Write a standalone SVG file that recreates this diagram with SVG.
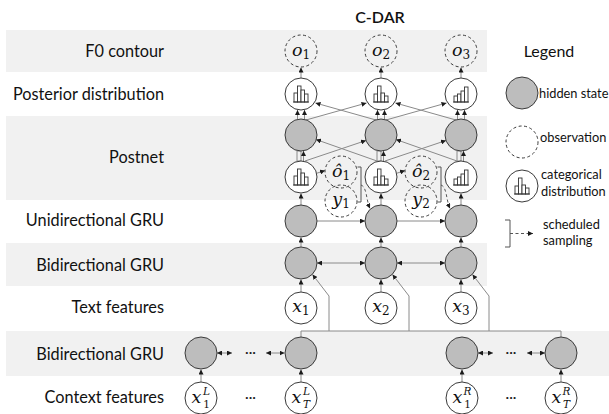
<svg xmlns="http://www.w3.org/2000/svg" xmlns:xlink="http://www.w3.org/1999/xlink" width="609" height="414" viewBox="0 0 609 414">
<style>
.band{fill:#f1f1f1}
.lbl{font-family:Lato,"Noto Sans","Liberation Sans",sans-serif;font-size:16.3px;fill:#111;text-anchor:end}
.leg{font-family:Lato,"Noto Sans","Liberation Sans",sans-serif;font-size:12.8px;fill:#111}
.hid{fill:#bdbdbd;stroke:#3a3a3a;stroke-width:1}
.obs{fill:#fff;fill-opacity:0;stroke:#3a3a3a;stroke-width:1;stroke-dasharray:3 2.5}
.cat{fill:#fff;stroke:#3a3a3a;stroke-width:1}
.m{font-family:"DejaVu Serif","Liberation Serif",serif;font-style:italic;font-size:17.5px;fill:#111;text-anchor:middle}
.ms{font-size:12px;font-style:normal}
.sc{font-family:"DejaVu Serif","Liberation Serif",serif;font-size:10.5px;fill:#111;text-anchor:middle}
.c{fill:none;stroke:#8a8a8a;stroke-width:1}
.a{marker-end:url(#ah)}
.d{marker-start:url(#ah);marker-end:url(#ah)}
.dash{stroke-dasharray:3 2.5;stroke:#555}
.bar{fill:#fff;stroke:#333;stroke-width:0.9}
.dots{font-family:Lato,"Liberation Sans",sans-serif;font-size:14px;fill:#222;text-anchor:middle}
</style>
<defs>
<marker id="ah" viewBox="0 0 5 5" refX="5" refY="2.5" markerWidth="5" markerHeight="5" orient="auto-start-reverse" markerUnits="userSpaceOnUse"><path d="M0,0 L5,2.5 L0,5 Z" fill="#1a1a1a"/></marker>
<g id="hA"><rect class="bar" x="-7" y="-1" width="3.5" height="9"/><rect class="bar" x="-3.5" y="-8" width="3.5" height="16"/><rect class="bar" x="0" y="-4" width="3.5" height="12"/><rect class="bar" x="3.5" y="0" width="3.5" height="8"/><path d="M-8,8 H8" stroke="#333" stroke-width="0.9"/></g>
<g id="hB"><rect class="bar" x="-7" y="0" width="3.5" height="8"/><rect class="bar" x="-3.5" y="-8" width="3.5" height="16"/><rect class="bar" x="0" y="-1" width="3.5" height="9"/><rect class="bar" x="3.5" y="2" width="3.5" height="6"/><path d="M-8,8 H8" stroke="#333" stroke-width="0.9"/></g>
<g id="hC"><rect class="bar" x="-7" y="2" width="3.5" height="6"/><rect class="bar" x="-3.5" y="0" width="3.5" height="8"/><rect class="bar" x="0" y="-3" width="3.5" height="11"/><rect class="bar" x="3.5" y="-7" width="3.5" height="15"/><path d="M-8,8 H8" stroke="#333" stroke-width="0.9"/></g>
</defs>

<g id="bands">
<rect class="band" x="6" y="30" width="481" height="42"/>
<rect class="band" x="6" y="116" width="481" height="84"/>
<rect class="band" x="6" y="243" width="481" height="43"/>
<rect class="band" x="6" y="331" width="603" height="45"/>
</g>

<g id="labels">
<text x="380" y="23" style="font-family:Lato,'Noto Sans',sans-serif;font-size:16px;font-weight:600;text-anchor:middle;fill:#111">C-DAR</text>
<text class="lbl" x="164" y="57">F0 contour</text>
<text class="lbl" x="164" y="100">Posterior distribution</text>
<text class="lbl" x="164" y="163">Postnet</text>
<text class="lbl" x="164" y="226">Unidirectional GRU</text>
<text class="lbl" x="164" y="271">Bidirectional GRU</text>
<text class="lbl" x="164" y="313">Text features</text>
<text class="lbl" x="164" y="360">Bidirectional GRU</text>
<text class="lbl" x="164" y="403">Context features</text>
</g>

<g id="connectors">
<path class="c a" d="M301,78 V67.5"/><path class="c a" d="M381,78 V67.5"/><path class="c a" d="M461,78 V67.5"/>
<path class="c a" d="M297.5,119.5 V110"/><path class="c a" d="M304.5,119.5 V110"/>
<path class="c a" d="M377.5,119.5 V110"/><path class="c a" d="M384.5,119.5 V110"/>
<path class="c a" d="M457.5,119.5 V110"/><path class="c a" d="M464.5,119.5 V110"/>
<path class="c a" d="M306,120 L366.5,103"/><path class="c a" d="M376,120 L315.5,103"/>
<path class="c a" d="M386,120 L446.5,103"/><path class="c a" d="M456,120 L395.5,103"/>
<rect x="297" y="151" width="4" height="10" fill="none" stroke="#8a8a8a"/><path class="c a" d="M303.5,161 V151"/>
<rect x="377" y="151" width="4" height="10" fill="none" stroke="#8a8a8a"/><path class="c a" d="M383.5,161 V151"/>
<rect x="457" y="151" width="4" height="10" fill="none" stroke="#8a8a8a"/><path class="c a" d="M463.5,161 V151"/>
<path class="c a" d="M305,161 L366,140.5"/><path class="c a" d="M377,161 L316,139.5"/>
<path class="c a" d="M385,161 L446,140.5"/><path class="c a" d="M457,161 L396,139.5"/>
<path class="c a" d="M316,173.5 L325,170.5"/><path class="c a" d="M396,173.5 L405,170.5"/>
<path d="M357.5,167 H361 V202 H357.5" fill="none" stroke="#555" stroke-width="1"/>
<path class="c a dash" d="M361,185 C367,187 366,200 370,208.5"/>
<path d="M437.5,167 H441 V202 H437.5" fill="none" stroke="#555" stroke-width="1"/>
<path class="c a dash" d="M441,185 C447,187 446,200 450,208.5"/>
<path class="c a" d="M301,205 V193.5"/><path class="c a" d="M381,205 V193.5"/><path class="c a" d="M461,205 V193.5"/>
<path class="c a" d="M317,221 H365"/><path class="c a" d="M397,221 H445"/>
<path class="c a" d="M301,247 V237.5"/><path class="c a" d="M381,247 V237.5"/><path class="c a" d="M461,247 V237.5"/>
<path class="c d" d="M317,263 H365"/><path class="c d" d="M397,263 H445"/>
<path class="c a" d="M301,292 V279.5"/><path class="c a" d="M381,292 V279.5"/><path class="c a" d="M461,292 V279.5"/>
<path class="c a" d="M329,331 V296 L312.5,274.5"/>
<path class="c a" d="M409,331 V296 L392.5,274.5"/>
<path class="c a" d="M489,331 V296 L472.5,274.5"/>
<path class="c" d="M301,337 V331 H561 V337"/>
<path class="c d" d="M217,353 H232"/><path class="c d" d="M266,353 H284.5"/>
<path class="c d" d="M478,353 H493"/><path class="c d" d="M527,353 H545"/>
<path class="c a" d="M201,382 V369.5"/><path class="c a" d="M301,382 V369.5"/><path class="c a" d="M462,382 V369.5"/><path class="c a" d="M561,382 V369.5"/>
</g>

<g id="o1"><circle class="obs" cx="301" cy="51" r="16"/><text class="m" x="301" y="56">o<tspan class="ms" dy="3">1</tspan></text></g>
<g id="o2"><circle class="obs" cx="381" cy="51" r="16"/><text class="m" x="381" y="56">o<tspan class="ms" dy="3">2</tspan></text></g>
<g id="o3"><circle class="obs" cx="461" cy="51" r="16"/><text class="m" x="461" y="56">o<tspan class="ms" dy="3">3</tspan></text></g>

<g id="p1"><circle class="cat" cx="301" cy="94" r="16"/><use xlink:href="#hA" x="301" y="94"/></g>
<g id="p2"><circle class="cat" cx="381" cy="94" r="16"/><use xlink:href="#hB" x="381" y="94"/></g>
<g id="p3"><circle class="cat" cx="461" cy="94" r="16"/><use xlink:href="#hC" x="461" y="94"/></g>

<g id="h1"><circle class="hid" cx="301" cy="135" r="16"/></g>
<g id="h2"><circle class="hid" cx="381" cy="135" r="16"/></g>
<g id="h3"><circle class="hid" cx="461" cy="135" r="16"/></g>

<g id="c1"><circle class="cat" cx="301" cy="177" r="16"/><use xlink:href="#hA" x="301" y="177"/></g>
<g id="c2"><circle class="cat" cx="381" cy="177" r="16"/><use xlink:href="#hB" x="381" y="177"/></g>
<g id="c3"><circle class="cat" cx="461" cy="177" r="16"/><use xlink:href="#hC" x="461" y="177"/></g>

<g id="oh1"><circle class="obs" cx="341" cy="172" r="16"/><text class="m" x="341" y="177">ô<tspan class="ms" dy="3">1</tspan></text></g>
<g id="oh2"><circle class="obs" cx="421" cy="172" r="16"/><text class="m" x="421" y="177">ô<tspan class="ms" dy="3">2</tspan></text></g>
<g id="y1"><circle class="obs" cx="341" cy="201" r="16"/><text class="m" x="341" y="205">y<tspan class="ms" dy="3">1</tspan></text></g>
<g id="y2"><circle class="obs" cx="421" cy="201" r="16"/><text class="m" x="421" y="205">y<tspan class="ms" dy="3">2</tspan></text></g>

<g id="u1"><circle class="hid" cx="301" cy="221" r="16"/></g>
<g id="u2"><circle class="hid" cx="381" cy="221" r="16"/></g>
<g id="u3"><circle class="hid" cx="461" cy="221" r="16"/></g>

<g id="b1"><circle class="hid" cx="301" cy="263" r="16"/></g>
<g id="b2"><circle class="hid" cx="381" cy="263" r="16"/></g>
<g id="b3"><circle class="hid" cx="461" cy="263" r="16"/></g>

<g id="x1"><circle class="cat" cx="301" cy="308" r="16"/><text class="m" x="301" y="312">x<tspan class="ms" dy="3">1</tspan></text></g>
<g id="x2"><circle class="cat" cx="381" cy="308" r="16"/><text class="m" x="381" y="312">x<tspan class="ms" dy="3">2</tspan></text></g>
<g id="x3"><circle class="cat" cx="461" cy="308" r="16"/><text class="m" x="461" y="312">x<tspan class="ms" dy="3">3</tspan></text></g>

<g id="bl1"><circle class="hid" cx="201" cy="353" r="16"/></g>
<g id="blT"><circle class="hid" cx="301" cy="353" r="16"/></g>
<g id="br1"><circle class="hid" cx="462" cy="353" r="16"/></g>
<g id="brT"><circle class="hid" cx="561" cy="353" r="16"/></g>
<text class="dots" x="250.5" y="357">···</text>
<text class="dots" x="511" y="357">···</text>

<g id="xl1"><circle class="cat" cx="201" cy="398" r="16"/><text class="m" x="196.5" y="403">x</text><text class="sc" x="206.5" y="394.5" font-style="italic">L</text><text class="sc" x="206.5" y="408">1</text></g>
<g id="xlT"><circle class="cat" cx="301" cy="398" r="16"/><text class="m" x="296.5" y="403">x</text><text class="sc" x="306.5" y="394.5" font-style="italic">L</text><text class="sc" x="306.5" y="408" font-style="italic">T</text></g>
<g id="xr1"><circle class="cat" cx="462" cy="398" r="16"/><text class="m" x="457.5" y="403">x</text><text class="sc" x="467.5" y="394.5" font-style="italic">R</text><text class="sc" x="467.5" y="408">1</text></g>
<g id="xrT"><circle class="cat" cx="561" cy="398" r="16"/><text class="m" x="556.5" y="403">x</text><text class="sc" x="566.5" y="394.5" font-style="italic">R</text><text class="sc" x="566.5" y="408" font-style="italic">T</text></g>
<text class="dots" x="250.5" y="402">···</text>
<text class="dots" x="511" y="402">···</text>

<g id="legend">
<text x="549" y="57" style="font-family:Lato,'Noto Sans',sans-serif;font-size:16px;text-anchor:middle;fill:#111">Legend</text>
<circle class="hid" cx="522" cy="93" r="16"/><text class="leg" x="539" y="98">hidden state</text>
<circle class="obs" cx="522" cy="142" r="16"/><text class="leg" x="540" y="142">observation</text>
<circle class="cat" cx="522" cy="186" r="16"/><use xlink:href="#hB" x="522" y="186"/>
<text class="leg" x="541" y="179">categorical</text><text class="leg" x="541" y="195.5">distribution</text>
<path d="M505,220 H510 V247 H505" fill="none" stroke="#555" stroke-width="1"/>
<path class="c a dash" d="M510,233.5 H533"/>
<text class="leg" x="543" y="228.5">scheduled</text><text class="leg" x="543" y="245">sampling</text>
</g>
</svg>
